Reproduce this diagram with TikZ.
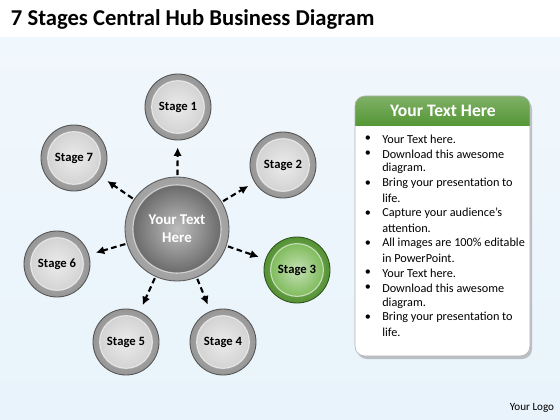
\documentclass[tikz,border=0pt]{standalone}
\usepackage{fontspec}
\setmainfont{Carlito}
\usetikzlibrary{arrows.meta}
\definecolor{skyback}{RGB}{232,243,251}
\definecolor{ringgray}{RGB}{150,150,150}
\definecolor{facegray}{RGB}{205,205,205}
\definecolor{hubring}{RGB}{160,160,160}
\definecolor{hubface}{RGB}{92,92,92}
\definecolor{ringgreen}{RGB}{84,146,50}
\definecolor{facegreen}{RGB}{110,178,70}
\definecolor{headgreen}{RGB}{84,150,52}
\tikzset{
    ball/.style n args={3}{
        circle,
        inner sep=0pt,
        draw=#1!55!black,
        line width=0.6pt,
        inner color=#1!60!white,
        outer color=#1,
        path picture={
            \shade[inner color=#2!40!white, outer color=#2]
                (path picture bounding box.center) circle (#3);
            \draw[white, opacity=.6, line width=0.8pt]
                (path picture bounding box.center) circle (#3);
        }
    },
    stagebox/.style={
        ball={ringgray}{facegray}{0.66cm},
        minimum size=1.65cm,
        font=\bfseries\fontsize{9}{10}\selectfont
    },
    hubarrow/.style={
        dash pattern=on 4pt off 2.5pt,
        line width=1.5pt,
        -{Latex[length=6pt, width=6pt]},
        shorten <=1pt,
        shorten >=5pt
    }
}

\begin{document}
\begin{tikzpicture}[x=0.025cm, y=-0.025cm]
  \useasboundingbox (0,0) rectangle (560,420);
  \fill[white] (0,0) rectangle (560,38);
  \shade[top color=skyback!60!white, bottom color=skyback] (0,38) rectangle (560,420);

  \node[anchor=base west, font=\bfseries\fontsize{16.1}{19}\selectfont] (title) at (6,26)
    {7 Stages Central Hub Business Diagram};

  % hub and stages
  \node[ball={hubring}{hubface}{1.1cm}, minimum size=2.6cm, align=center, text=white,
        font=\bfseries\fontsize{10.6}{12.8}\selectfont] (hub) at (177,229) {Your Text\\Here};

  \node[stagebox] (s1) at (178,107) {Stage 1};
  \node[stagebox] (s2) at (283,165) {Stage 2};
  \node[stagebox, ball={ringgreen}{facegreen}{0.66cm}] (s3) at (297,270) {Stage 3};
  \node[stagebox] (s4) at (223,342) {Stage 4};
  \node[stagebox] (s5) at (126,342) {Stage 5};
  \node[stagebox] (s6) at (57,264) {Stage 6};
  \node[stagebox] (s7) at (74,158) {Stage 7};

  \foreach \i in {1,...,7} {
    \draw[hubarrow] (hub) -- (s\i);
  }

  % text panel
  \fill[gray, opacity=.45, rounded corners=7pt] (357,99) rectangle (532,359);
  \fill[white, rounded corners=7pt] (355,96) rectangle (530,356);
  \begin{scope}
    \clip[rounded corners=7pt] (355,96) rectangle (530,356);
    \shade[top color=headgreen!75!white, bottom color=headgreen] (355,96) rectangle (530,126);
  \end{scope}
  \draw[gray!60, rounded corners=7pt] (355,96) rectangle (530,356);
  \node[text=white, font=\bfseries\fontsize{12.5}{14}\selectfont] (head) at (443,111) {Your Text Here};

  \foreach \b/\t [count=\k] in {1/Your Text here., 1/Download this awesome, 0/diagram.,
      1/Bring your presentation to, 0/life., 1/Capture your audience’s, 0/attention.,
      1/All images are 100\% editable, 0/in PowerPoint., 1/Your Text here.,
      1/Download this awesome, 0/diagram., 1/Bring your presentation to, 0/life.} {
    \pgfmathsetmacro{\y}{139+(\k-1)*14.9}
    \node[anchor=west, inner sep=0pt, font=\fontsize{8.7}{10}\selectfont] (line\k) at (382,\y) {\t};
    \ifnum\b=1
      \node[inner sep=0pt, font=\fontsize{8.7}{10}\selectfont] (dot\k) at (368,\y) {\textbullet};
    \fi
  }

  \node[font=\fontsize{7.9}{9}\selectfont] (logo) at (532,408) {Your Logo};
\end{tikzpicture}
\end{document}
